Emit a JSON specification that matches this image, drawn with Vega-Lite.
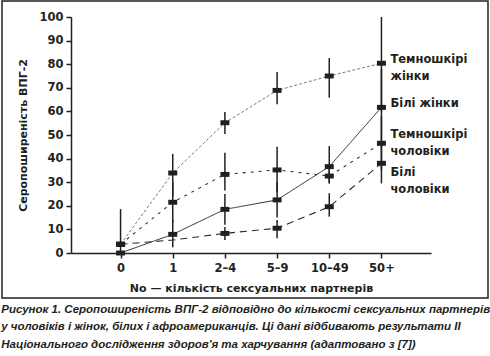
{
  "$schema": "https://vega.github.io/schema/vega-lite/v6.json",
  "width": 360,
  "height": 236,
  "autosize": "none",
  "padding": {"left": 71, "top": 17, "right": 59, "bottom": 103},
  "background": "#ffffff",
  "config": {
    "view": {"stroke": null},
    "font": "DejaVu Sans",
    "axis": {
      "domainColor": "#231f20", "domainWidth": 1.5, "tickColor": "#231f20", "tickWidth": 1.5, "tickSize": 5,
      "labelColor": "#231f20", "labelFont": "DejaVu Sans", "labelFontWeight": "bold", "labelFontSize": 11.5,
      "labelOverlap": false,
      "titleColor": "#231f20", "titleFont": "DejaVu Sans", "titleFontWeight": "bold", "titleFontSize": 11,
      "grid": false
    }
  },
  "title": {
    "text": ["Рисунок 1. Серопоширеність ВПГ-2 відповідно до кількості сексуальних партнерів", "у чоловіків і жінок, білих і афроамериканців. Ці дані відбивають результати II", "Національного дослідження здоров'я та харчування (адаптовано з [7])"],
    "orient": "bottom", "anchor": "start", "frame": "bounds",
    "font": "Liberation Sans", "fontStyle": "italic", "fontWeight": "bold", "fontSize": 11.5,
    "lineHeight": 17.5, "color": "#231f20", "offset": 5
  },
  "datasets": {
    "points": [
      {"series": "Темношкірі жінки", "n": "0", "v": 3.7, "lo": 0, "hi": 18.6},
      {"series": "Темношкірі жінки", "n": "1", "v": 33.9, "lo": 24, "hi": 42},
      {"series": "Темношкірі жінки", "n": "2–4", "v": 55.2, "lo": 50.4, "hi": 59.7},
      {"series": "Темношкірі жінки", "n": "5–9", "v": 68.9, "lo": 63, "hi": 76.7},
      {"series": "Темношкірі жінки", "n": "10–49", "v": 75, "lo": 65.8, "hi": 82.6},
      {"series": "Темношкірі жінки", "n": "50+", "v": 80.4, "lo": 60, "hi": 100},
      {"series": "Білі жінки", "n": "0", "v": 0, "lo": null, "hi": null},
      {"series": "Білі жінки", "n": "1", "v": 7.9, "lo": 2.4, "hi": 14},
      {"series": "Білі жінки", "n": "2–4", "v": 18.5, "lo": 12, "hi": 25},
      {"series": "Білі жінки", "n": "5–9", "v": 22.5, "lo": 15, "hi": 30},
      {"series": "Білі жінки", "n": "10–49", "v": 36.6, "lo": 29.5, "hi": 45.3},
      {"series": "Білі жінки", "n": "50+", "v": 61.7, "lo": 45, "hi": 78},
      {"series": "Темношкірі чоловіки", "n": "0", "v": 3.7, "lo": null, "hi": null},
      {"series": "Темношкірі чоловіки", "n": "1", "v": 21.5, "lo": 13, "hi": 30},
      {"series": "Темношкірі чоловіки", "n": "2–4", "v": 33.3, "lo": 26.5, "hi": 42.5},
      {"series": "Темношкірі чоловіки", "n": "5–9", "v": 35.2, "lo": 26, "hi": 45},
      {"series": "Темношкірі чоловіки", "n": "10–49", "v": 32.6, "lo": 29.5, "hi": 36},
      {"series": "Темношкірі чоловіки", "n": "50+", "v": 46.5, "lo": 35, "hi": 58},
      {"series": "Білі чоловіки", "n": "0", "v": 3.7, "lo": null, "hi": null},
      {"series": "Білі чоловіки", "n": "1", "v": 5.5, "lo": null, "hi": null},
      {"series": "Білі чоловіки", "n": "2–4", "v": 8.3, "lo": 5.5, "hi": 11},
      {"series": "Білі чоловіки", "n": "5–9", "v": 10.5, "lo": 6.2, "hi": 14},
      {"series": "Білі чоловіки", "n": "10–49", "v": 19.6, "lo": 15.4, "hi": 25.3},
      {"series": "Білі чоловіки", "n": "50+", "v": 38, "lo": 29.5, "hi": 46}
    ],
    "labels": [
      {"series": "Темношкірі жінки", "n": "50+", "ly": 81.8, "text": ["Темношкірі", "жінки"]},
      {"series": "Білі жінки", "n": "50+", "ly": 63.1, "text": ["Білі жінки"]},
      {"series": "Темношкірі чоловіки", "n": "50+", "ly": 50, "text": ["Темношкірі", "чоловіки"]},
      {"series": "Білі чоловіки", "n": "50+", "ly": 34.1, "text": ["Білі", "чоловіки"]}
    ]
  },
  "encoding": {
    "x": {
      "field": "n", "type": "ordinal",
      "sort": ["0", "1", "2–4", "5–9", "10–49", "50+"],
      "scale": {"type": "point", "padding": 0.95},
      "axis": {"labelAngle": 0, "labelPadding": 4, "titlePadding": 9, "title": "No — кількість сексуальних партнерів"}
    }
  },
  "layer": [
    {
      "data": {"values": [{}]},
      "mark": {"type": "rect", "fill": null, "stroke": "#231f20", "strokeWidth": 1.5},
      "encoding": {
        "x": {"value": -69}, "x2": {"value": 417},
        "y": {"value": -16}, "y2": {"value": 281}
      }
    },
    {
      "data": {"name": "points"},
      "mark": {"type": "line"},
      "encoding": {
        "y": {
          "field": "v", "type": "quantitative",
          "scale": {"domain": [0, 100], "nice": false},
          "axis": {"values": [0, 10, 20, 30, 40, 50, 60, 70, 80, 90, 100], "labelOverlap": false, "labelPadding": 3, "titlePadding": 10, "title": "Серопоширеність ВПГ-2"}
        },
        "detail": {"field": "series"},
        "strokeDash": {
          "field": "series", "type": "nominal", "legend": null,
          "scale": {"domain": ["Темношкірі жінки", "Білі жінки", "Темношкірі чоловіки", "Білі чоловіки"], "range": [[3, 2], [1, 0], [3, 5], [7, 5]]}
        },
        "color": {
          "field": "series", "type": "nominal", "legend": null,
          "scale": {"domain": ["Темношкірі жінки", "Білі жінки", "Темношкірі чоловіки", "Білі чоловіки"], "range": ["#6b6b6b", "#231f20", "#2a2a2a", "#2a2a2a"]}
        },
        "strokeWidth": {
          "field": "series", "type": "nominal", "legend": null,
          "scale": {"domain": ["Темношкірі жінки", "Білі жінки", "Темношкірі чоловіки", "Білі чоловіки"], "range": [0.9, 1.1, 1.4, 1.3]}
        }
      }
    },
    {
      "data": {"name": "points"},
      "mark": {"type": "rule", "color": "#231f20", "strokeWidth": 1.5},
      "encoding": {
        "y": {"field": "lo", "type": "quantitative",
          "axis": {"values": [0, 10, 20, 30, 40, 50, 60, 70, 80, 90, 100], "labelOverlap": false, "labelPadding": 3, "titlePadding": 10, "title": "Серопоширеність ВПГ-2"}},
        "y2": {"field": "hi"}
      }
    },
    {
      "data": {"name": "points"},
      "transform": [{"filter": "!(datum.series === 'Білі чоловіки' && datum.n === '1')"}],
      "mark": {"type": "point", "filled": true, "opacity": 1, "color": "#231f20", "shape": "M-1,-0.55L1,-0.55L1,0.55L-1,0.55Z", "size": 81},
      "encoding": {
        "y": {"field": "v", "type": "quantitative",
          "axis": {"values": [0, 10, 20, 30, 40, 50, 60, 70, 80, 90, 100], "labelOverlap": false, "labelPadding": 3, "titlePadding": 10, "title": "Серопоширеність ВПГ-2"}}
      }
    },
    {
      "data": {"name": "labels"},
      "mark": {"type": "text", "align": "left", "baseline": "middle", "dx": 9, "font": "DejaVu Sans", "fontWeight": "bold", "fontSize": 11.5, "lineHeight": 17, "color": "#231f20"},
      "encoding": {
        "y": {"field": "ly", "type": "quantitative",
          "axis": {"values": [0, 10, 20, 30, 40, 50, 60, 70, 80, 90, 100], "labelOverlap": false, "labelPadding": 3, "titlePadding": 10, "title": "Серопоширеність ВПГ-2"}},
        "text": {"field": "text"}
      }
    }
  ]
}
